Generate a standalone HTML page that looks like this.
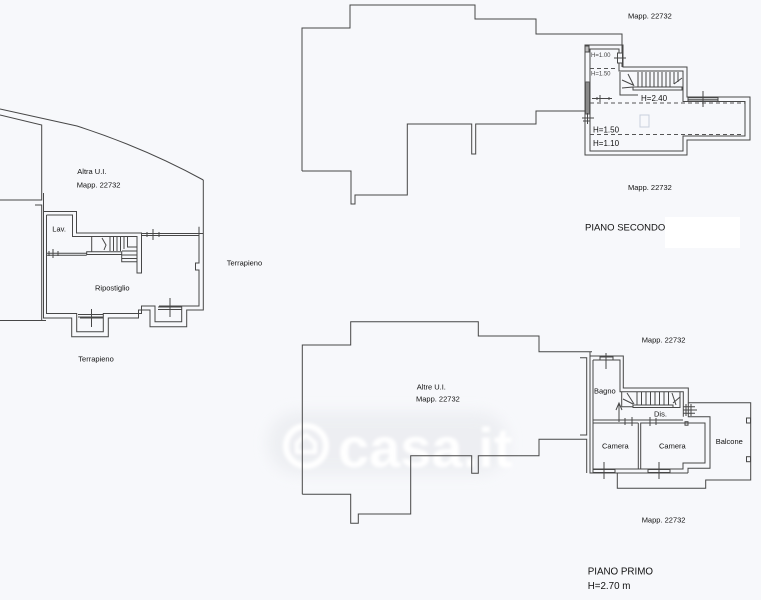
<!DOCTYPE html>
<html>
<head>
<meta charset="utf-8">
<style>
html,body{margin:0;padding:0;background:#f7f8fb;}
svg{display:block;}
text{font-family:"Liberation Sans",Arial,sans-serif;fill:#111;}
</style>
</head>
<body>
<svg width="761" height="600" viewBox="0 0 761 600" xmlns="http://www.w3.org/2000/svg">
<defs>
<filter id="blur" x="-20%" y="-50%" width="140%" height="200%"><feGaussianBlur stdDeviation="7"/></filter>
<filter id="blur2" x="-20%" y="-50%" width="140%" height="200%"><feGaussianBlur stdDeviation="1.5"/></filter>
</defs>
<rect x="0" y="0" width="761" height="600" fill="#f7f8fb"/>

<!-- watermark -->
<g>
<rect x="268" y="412" width="240" height="62" rx="30" fill="#e9ebef" filter="url(#blur)" opacity="0.7"/>
<circle cx="306" cy="446" r="20" fill="none" stroke="#ffffff" stroke-width="6" filter="url(#blur2)"/>
<path d="M297 452 L297 443 L306 435 L315 443 L315 452 Z" fill="none" stroke="#ffffff" stroke-width="4" filter="url(#blur2)"/>
<text x="338" y="467" font-size="56" font-weight="bold" style="fill:#ffffff" filter="url(#blur2)">casa.it</text>
</g>

<!-- white box behind PIANO SECONDO -->
<rect x="665" y="217" width="75" height="31" fill="#ffffff"/>

<g fill="none" stroke="#474747" stroke-width="1">

<!-- ============ LEFT PLAN ============ -->
<path d="M0 109 L77 126 Q145 148 203.3 180"/>
<path d="M0 115 L41.7 125 L41.7 200 L0 200"/>
<path d="M35 205 L41.7 205 L41.7 320"/>
<path d="M0 320.5 L46 320.5"/>
<path d="M43.5 193 L43.5 318 L71.7 318 L71.7 336.7 L108.3 336.7 L108.3 318 L138.5 318 L138.5 310 L150 310 L150 326.7 L186.7 326.7 L186.7 310 L203.3 310 L203.3 180"/>
<path d="M46.5 215 L46.5 313.5 L76.7 313.5 L76.7 331.7 L103.3 331.7 L103.3 313.5 L141.5 313.5 L141.5 306 L155 306 L155 321.7 L181.7 321.7 L181.7 306 L199 306 L199 270 L195.5 270 L195.5 263 L199 263 L199 226.7"/>
<path d="M78 314.5 L103 314.5 M78 317 L103 317"/>
<path d="M91.5 309 L91.5 327 M80 318 L103 318"/>
<path d="M158 307 L181.7 307 M158 309.5 L181.7 309.5"/>
<path d="M170 298 L170 317 M159 306 L182 306"/>
<path d="M43.5 211.5 L76.5 211.5 L76.5 233 L141.5 233 L141.5 273 L137 273 L137 236.5 L72.5 236.5 L72.5 215 L46.5 215"/>
<path d="M141.5 233.5 L203.3 233.5 M141.5 235.5 L199 235.5"/>
<path d="M153 229 L153 240 M147 232 L147 237 M159 232 L159 237"/>
<path d="M46.5 253.3 L86.7 253.3 M46.5 255.3 L86.7 255.3"/>
<path d="M53 249 L53 258 M49 251 L49 256 M58 251 L58 256"/>
<path d="M91.7 236.5 L91.7 251.7 M86.7 251.7 L121.7 251.7 L121.7 254.5 L86.7 254.5 Z"/>
<path d="M121.7 254.5 L121.7 261.7 L136.7 261.7"/>
<path d="M110 237 L110 251 M113.5 237 L113.5 251 M117 237 L117 251 M120.5 237 L120.5 251 M124 237 L124 249 M127.5 237 L127.5 247 L136.7 247 M122 251 L136.7 251 M122 255 L136.7 255 M122 258.5 L136.7 258.5"/>
<path d="M102 238 L106 245 L104 250"/>

<!-- ============ SECOND FLOOR OUTLINE ============ -->
<path d="M302 171 L302 28 L350 28 L350 5 L475 5 L475 19 L536 19 L536 34 L622 34 L622 67"/>
<path d="M587 111 L536 111 L536 124 L475.7 124 L475.7 154 L471.7 154 L471.7 124 L407.3 124 L407.3 195 L355 195 L355 204 L351 204 L351 171 L302 171"/>

<path d="M585 45 L623 45 L623 67 L687 67 L687 97 L750 97 L750 140 L687 140 L687 155 L585 155 Z"/>
<path d="M590 49 L619 49 L619 71 L683 71 L683 101.5 L745 101.5 L745 136 L683 136 L683 151 L590 151 Z"/>
<rect x="688" y="97.5" width="30" height="3.5" fill="#f7f8fb"/>
<path d="M688 97.5 L718 97.5 M688 101 L718 101 M688 99.3 L718 99.3"/>
<path d="M703 91 L703 107"/>
<path d="M620 72 L620 95 L638 95 M633 87 L682 87 L682 90 L633 90 Z"/>
<path d="M638 72 L638 87 M642 72 L642 87 M646 72 L646 87 M650 72 L650 87 M654 72 L654 87 M658 72 L658 87 M662 72 L662 87 M666 72 L666 87 M670 72 L670 87 M674 72 L674 84 M678 72 L678 82"/>
<path d="M622 80 L633 85 M622 88 L633 87 M628 74 L634 86 M674 84 L682 78"/>
<rect x="617.5" y="53" width="5" height="10" fill="#f7f8fb"/>
<path d="M617.5 53 L617.5 63 M622.5 53 L622.5 63 M614 58 L626 58"/>
<rect x="585.5" y="82" width="4" height="32" fill="#8a8a8a" stroke="#555"/>
<rect x="585" y="46" width="4" height="6" fill="#bbb"/>
<path d="M582 118 L594 118 M587.5 113 L587.5 124 M583 121 L590 121"/>
<path d="M592 98.5 L612 98.5 M600 95 L600 102 M597 97 L597 100 M609 97 L609 100"/>
</g>

<g fill="none" stroke="#555" stroke-width="0.9" stroke-dasharray="4 3">
<path d="M590 68.5 L618 68.5"/>
<path d="M590 103 L745 103"/>
<path d="M590 134.5 L743 134.5"/>
</g>
<rect x="640" y="115" width="9" height="12" fill="none" stroke="#c8d0dc" stroke-width="1"/>

<g fill="none" stroke="#474747" stroke-width="1">
<!-- ============ FIRST FLOOR OUTLINE ============ -->
<path d="M302.3 494.3 L302.3 345 L350.7 345 L350.7 321.7 L478.3 321.7 L478.3 336 L539 336 L539 351.7 L592 351.7"/>
<path d="M586.7 473 L586.7 439.3 L539 439.3 L539 455.7 L478.3 455.7 L478.3 473.3 L471.7 473.3 L471.7 455.7 L410.7 455.7 L410.7 514 L358.3 514 L358.3 523.3 L350.7 523.3 L350.7 494.3 L302.3 494.3"/>
<path d="M580 357.7 L586.7 357.7 L586.7 435 L580 435"/>

<path d="M590 352 L590 473 L688 473"/>
<path d="M590 356 L623.3 356 L623.3 388 L688.3 388 L688.3 402.7 L750.7 402.7 L750.7 480 L705.7 480 L705.7 488.3 L617.3 488.3 L617.3 473"/>
<path d="M593 360 L620 360 L620 391.7 L683.3 391.7 L683.3 416.7"/>
<path d="M593 360 L593 469 L683 469 L683 463 L705 463 L705 423 L640.7 423 L640.7 469"/>
<path d="M593 420 L683 420"/>
<path d="M638.3 423 L638.3 469"/>
<path d="M688.3 402.7 L688.3 416.7 L710 416.7 L710 468.3 L688 468.3 L688 473"/>
<path d="M593 423 L638.3 423"/>
<path d="M619 403 L619 422 M616 410 L619 403 L622 410"/>
<path d="M625 418 L625 425 M632 417 L632 426 M650 417 L650 426 M656 418 L656 425"/>
<rect x="600" y="357" width="13" height="3" fill="#f7f8fb"/>
<path d="M600 357 L613 357 M600 360 L613 360 M606 353 L606 369"/>
<rect x="593" y="469.5" width="22" height="3" fill="#f7f8fb"/>
<path d="M593 469.5 L615 469.5 M593 472.5 L615 472.5 M604 462 L604 479"/>
<rect x="648" y="469.5" width="22" height="3" fill="#f7f8fb"/>
<path d="M648 469.5 L670 469.5 M648 472.5 L670 472.5 M659 462 L659 479"/>
<path d="M683.3 406.7 L695 406.7 M683.3 413.3 L695 413.3 M686 404 L686 416 M691 404 L691 416 M683 410 L697 410"/>
<rect x="746.5" y="418" width="4" height="5"/>
<rect x="746.5" y="456.7" width="4" height="5"/>
<rect x="685" y="421.7" width="3" height="3.5"/>
<path d="M621.7 391.7 L621.7 406.7 L633 406.7 M633 405 L673 405 L673 407.5 L633 407.5 Z M673 407.5 L680 407.5 L680 391.7"/>
<path d="M637 392 L637 405 M641.5 392 L641.5 405 M646 392 L646 405 M650.5 392 L650.5 405 M655 392 L655 405 M659.5 392 L659.5 405 M664 392 L664 405 M668.5 392 L668.5 405"/>
<path d="M623 399 L633 404 M627 393 L634 404 M673 403 L680 397 M672 393 L676 405"/>
</g>

<!-- ============ TEXT ============ -->
<g font-size="7.5">
<text x="77.3" y="174">Altra U.I.</text>
<text x="76.7" y="187.3">Mapp. 22732</text>
<text x="52.3" y="231.7">Lav.</text>
<text x="95" y="290.7">Ripostiglio</text>
<text x="226.7" y="265.3">Terrapieno</text>
<text x="78.3" y="361.7">Terrapieno</text>
<text x="628" y="18.5">Mapp. 22732</text>
<text x="628" y="190">Mapp. 22732</text>
<text x="641.7" y="342.7">Mapp. 22732</text>
<text x="416.7" y="389.3">Altre U.I.</text>
<text x="416" y="401.7">Mapp. 22732</text>
<text x="594" y="393.3">Bagno</text>
<text x="654" y="416.7">Dis.</text>
<text x="602" y="448.3">Camera</text>
<text x="659" y="448.3">Camera</text>
<text x="715.7" y="444">Balcone</text>
<text x="641.7" y="522.3">Mapp. 22732</text>
</g>
<g font-size="8">
<text x="641" y="101">H=2.40</text>
<text x="593" y="132.5">H=1.50</text>
<text x="593" y="146">H=1.10</text>
</g>
<g font-size="6">
<text x="591" y="57" style="fill:#444">H=1.00</text>
<text x="591" y="75.5" style="fill:#444">H=1.50</text>
</g>
<text x="585" y="230.7" font-size="9.5">PIANO SECONDO</text>
<text x="587.7" y="574.3" font-size="9.8">PIANO PRIMO</text>
<text x="587.7" y="589" font-size="9.8">H=2.70 m</text>
</svg>
</body>
</html>
